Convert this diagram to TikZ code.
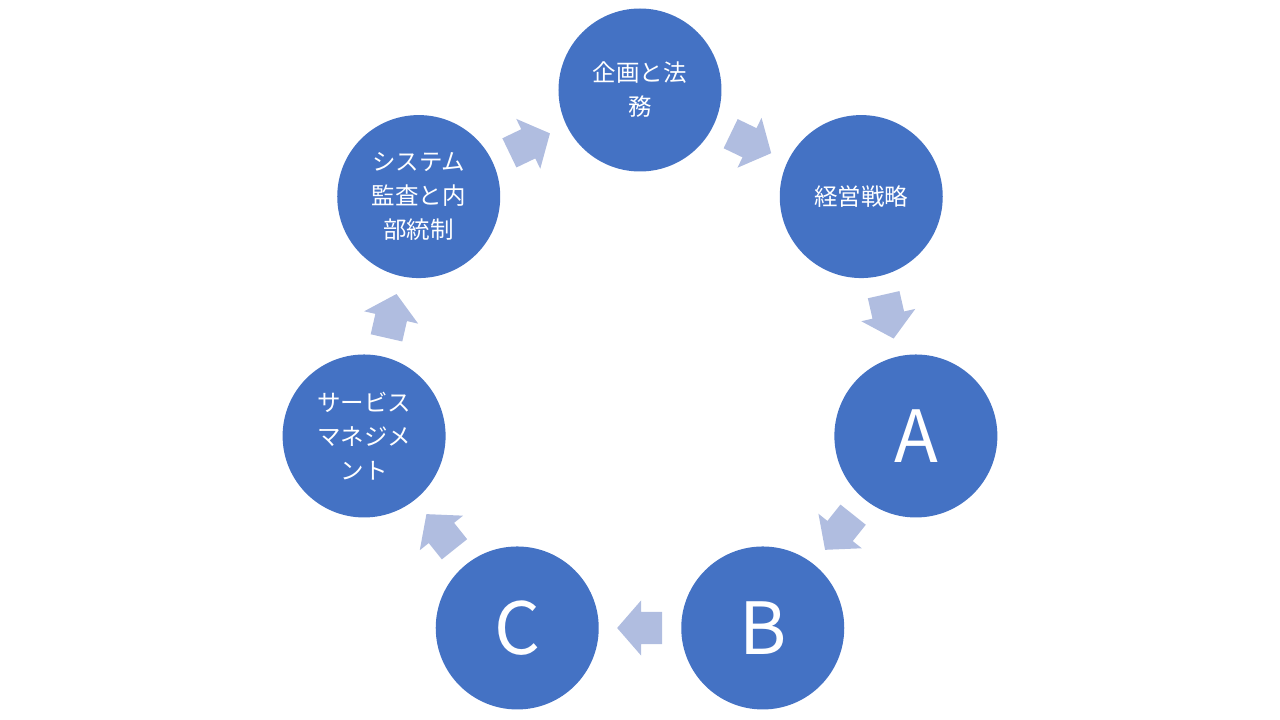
\documentclass[tikz,border=0pt]{standalone}
\usepackage{fontspec}
\setmainfont{Noto Sans CJK JP}
\usepackage{tikz}
\usetikzlibrary{
	shapes.arrows
}
\definecolor{stageblue}{HTML}{4472C4}
\definecolor{arrowblue}{HTML}{B0BDE0}
\tikzset{
	stage/.style={
		circle,
		fill=stageblue,
		text=white,
		minimum size=163pt,
		inner sep=0pt,
		align=center,
		font=\fontsize{23.5}{34}\selectfont
	},
	bigletter/.style={
		font=\fontsize{72}{80}\selectfont
	},
	blockarrow/.style={
		single arrow,
		fill=arrowblue,
		inner xsep=0pt,
		inner ysep=16pt,
		minimum height=45pt,
		single arrow head extend=11.5pt,
		single arrow tip angle=98,
		anchor=tail,
		pos=.228,
		sloped,
		allow upside down
	}
}

\begin{document}
\begin{tikzpicture}
	\useasboundingbox (-640pt,-347pt) rectangle (640pt,373pt);
		\draw
			node[stage]           (kikaku)  at (90:283pt)      {企画と法\\務}
			node[stage]           (keiei)   at (38.57:283pt)   {経営戦略}
			node[stage,bigletter] (a)       at (-12.86:283pt)  {A}
			node[stage,bigletter] (b)       at (-64.29:283pt)  {B}
			node[stage,bigletter] (c)       at (-115.71:283pt) {C}
			node[stage]           (service) at (-167.14:283pt) {サービス\\マネジメ\\ント}
			node[stage]           (audit)   at (141.43:283pt)  {システム\\監査と内\\部統制}

			(kikaku)  edge[draw=none] node[blockarrow] {} (keiei)
			(keiei)   edge[draw=none] node[blockarrow] {} (a)
			(a)       edge[draw=none] node[blockarrow] {} (b)
			(b)       edge[draw=none] node[blockarrow] {} (c)
			(c)       edge[draw=none] node[blockarrow] {} (service)
			(service) edge[draw=none] node[blockarrow] {} (audit)
			(audit)   edge[draw=none] node[blockarrow] {} (kikaku)
		;
	\end{tikzpicture}
\end{document}
